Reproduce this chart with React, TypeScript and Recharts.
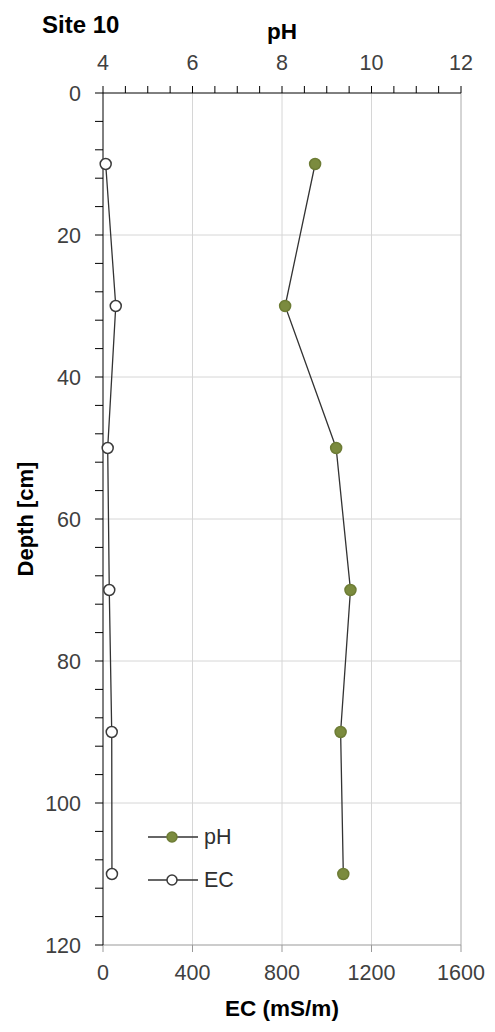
import React from 'react';
import { ScatterChart, Scatter, XAxis, YAxis, ReferenceLine, Legend } from 'recharts';

// soil profile, sampled every 20 cm
const depths = [10, 30, 50, 70, 90, 110];
const phValues = [8.74, 8.07, 9.21, 9.53, 9.31, 9.37];
const ecValues = [12, 57, 21, 28, 39, 40];

const phTicks = [4, 4.5, 5, 5.5, 6, 6.5, 7, 7.5, 8, 8.5, 9, 9.5, 10, 10.5, 11, 11.5, 12];
const ecTicks = [0, 400, 800, 1200, 1600];
const depthTicks = [0, 4, 8, 12, 16, 20, 24, 28, 32, 36, 40, 44, 48, 52, 56, 60, 64, 68, 72, 76, 80, 84, 88, 92, 96, 100, 104, 108, 112, 116, 120];
const depthGrid = [20, 40, 60, 80, 100];
const phGrid = [6, 8, 10, 12];
const legendOrder = ['pH', 'EC'];

const phData = depths.map((depth, i) => ({ depth, ph: phValues[i] }));
const ecData = depths.map((depth, i) => ({ depth, ec: ecValues[i] }));

const FONT = '"Liberation Sans", Arial, sans-serif';
const TICK = { fill: '#404040', fontSize: 21.5, fontFamily: FONT };
const GRID = '#d6d6d6';
const LINE = '#333333';

const MARKERS: Record<string, { fill: string; stroke: string }> = {
  pH: { fill: '#7b8b3e', stroke: '#6d7c35' },
  EC: { fill: '#ffffff', stroke: '#3a3a3a' },
};

const dot = (name: string) => (p: any) => (
  <circle cx={p.cx} cy={p.cy} r={5.5} fill={MARKERS[name].fill} stroke={MARKERS[name].stroke} strokeWidth={1.5} />
);

// legend keeps series order (pH above EC)
const renderLegend = () => (
  <svg width={110} height={70}>
    {legendOrder.map((name, i) => {
      const y = 15 + i * 43;
      const m = MARKERS[name];
      return (
        <g key={name}>
          <line x1={8} x2={58} y1={y} y2={y} stroke={LINE} strokeWidth={1.3} />
          <circle cx={32} cy={y} r={5} fill={m.fill} stroke={m.stroke} strokeWidth={1.5} />
          <text x={64} y={y} dominantBaseline="central" fontSize={21.5} fill="#303030" fontFamily={FONT}>
            {name}
          </text>
        </g>
      );
    })}
  </svg>
);

const depthLabel = (props: any) => {
  const { viewBox } = props;
  const x = viewBox.x + 25;
  const y = viewBox.y + viewBox.height / 2;
  return (
    <text x={x} y={y} transform={`rotate(-90 ${x} ${y})`} textAnchor="middle" dominantBaseline="central"
      fontSize={22} fontWeight={700} fill="#000" fontFamily={FONT}>
      Depth [cm]
    </text>
  );
};

export default function App() {
  return (
    <div style={{ position: 'absolute', left: 0, top: 0, width: 495, height: 1032, background: '#fff', fontFamily: FONT }}>
      <div style={{ position: 'absolute', left: 42, top: 11, fontSize: 24, fontWeight: 700, color: '#000' }}>Site 10</div>
      <ScatterChart width={495} height={1032} margin={{ top: 0, right: 34, bottom: 0, left: 0 }}>
        <XAxis
          xAxisId="ph"
          orientation="top"
          type="number"
          dataKey="ph"
          domain={[4, 12]}
          ticks={phTicks}
          interval={0}
          tickFormatter={(v: number) => (v % 2 === 0 ? String(v) : '')}
          height={93}
          tickSize={7}
          tickMargin={16}
          tick={TICK}
          axisLine={{ stroke: '#000' }}
          tickLine={{ stroke: '#000' }}
          label={{ value: 'pH', position: 'insideTop', offset: 23, fontSize: 22.5, fontWeight: 700, fill: '#000' }}
        />
        <XAxis
          xAxisId="ec"
          orientation="bottom"
          type="number"
          dataKey="ec"
          domain={[0, 1600]}
          ticks={ecTicks}
          interval={0}
          height={87}
          tickSize={7}
          tickMargin={13}
          tick={TICK}
          axisLine={{ stroke: '#999' }}
          tickLine={{ stroke: '#999' }}
          label={{ value: 'EC (mS/m)', position: 'insideBottom', offset: 16, fontSize: 22.5, fontWeight: 700, fill: '#000' }}
        />
        <YAxis
          yAxisId="d"
          type="number"
          dataKey="depth"
          domain={[0, 120]}
          reversed
          ticks={depthTicks}
          interval={0}
          tickFormatter={(v: number) => (v % 20 === 0 ? String(v) : '')}
          width={103}
          tickSize={8}
          tickMargin={14}
          tick={TICK}
          axisLine={{ stroke: '#000' }}
          tickLine={{ stroke: '#000' }}
          label={{ content: depthLabel }}
        />
        {depthGrid.map((d) => (
          <ReferenceLine key={`h${d}`} xAxisId="ph" yAxisId="d" y={d} stroke={GRID} strokeWidth={1} />
        ))}
        {phGrid.map((v) => (
          <ReferenceLine key={`v${v}`} xAxisId="ph" yAxisId="d" x={v} stroke={v === 12 ? '#aaa' : GRID} strokeWidth={1} />
        ))}
        <Scatter
          name="pH"
          data={phData}
          xAxisId="ph"
          yAxisId="d"
          line={{ stroke: LINE, strokeWidth: 1.3 }}
          shape={dot('pH')}
          isAnimationActive={false}
        />
        <Scatter
          name="EC"
          data={ecData}
          xAxisId="ec"
          yAxisId="d"
          line={{ stroke: LINE, strokeWidth: 1.3 }}
          shape={dot('EC')}
          isAnimationActive={false}
        />
        <Legend
          layout="vertical"
          align="center"
          verticalAlign="middle"
          content={renderLegend}
          wrapperStyle={{ position: 'absolute', left: 140, top: 822, width: 110, height: 70 }}
        />
      </ScatterChart>
    </div>
  );
}
